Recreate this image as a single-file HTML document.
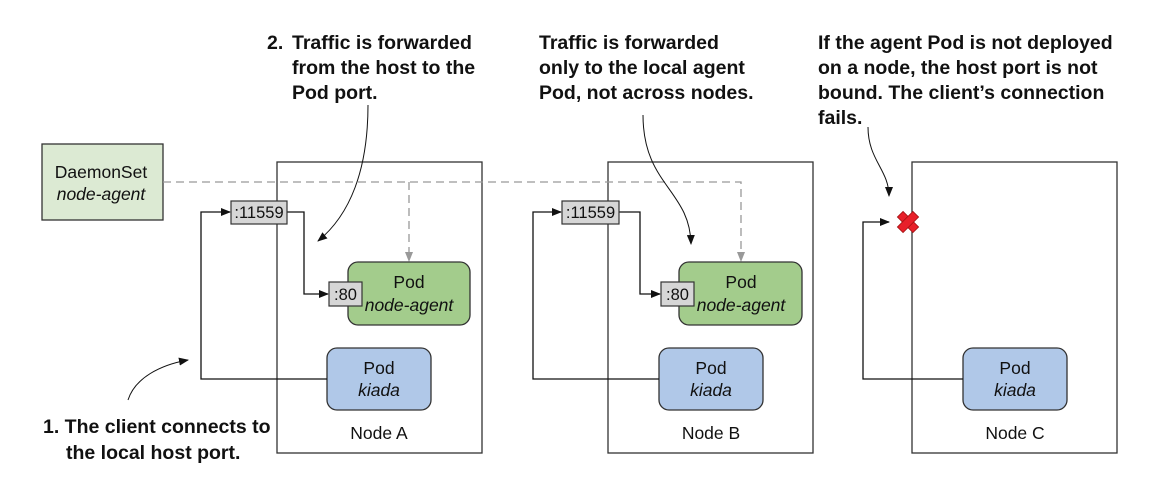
<!DOCTYPE html>
<html><head><meta charset="utf-8"><style>
html,body{margin:0;padding:0;background:#fff;}
svg{display:block;}
.a{font-family:"Liberation Sans Narrow","Liberation Sans",sans-serif;font-weight:bold;font-size:19.5px;fill:#111;}
.l{font-family:"Liberation Sans",sans-serif;font-size:17.5px;fill:#111;}
.s{font-size:16.5px;}
.i{font-style:italic;}
</style></head><body>
<svg width="1157" height="478" viewBox="0 0 1157 478" xmlns="http://www.w3.org/2000/svg">
<defs>
<marker id="ab" markerWidth="10" markerHeight="8" refX="9" refY="4" orient="auto" markerUnits="userSpaceOnUse"><path d="M0,0 L10,4 L0,8z" fill="#111"/></marker>
</defs>
<rect x="277" y="162" width="205" height="291" fill="#fff" stroke="#333" stroke-width="1.3"/>
<rect x="608" y="162" width="205" height="291" fill="#fff" stroke="#333" stroke-width="1.3"/>
<rect x="912" y="162" width="205" height="291" fill="#fff" stroke="#333" stroke-width="1.3"/>
<rect x="42" y="144" width="121" height="76" fill="#dcead3" stroke="#333" stroke-width="1.3"/>
<text class="l" x="101" y="178" text-anchor="middle">DaemonSet</text>
<text class="l i" x="101" y="200" text-anchor="middle">node-agent</text>
<path d="M163,182 H741 V258" fill="none" stroke="#999" stroke-width="1.3" stroke-dasharray="8,5"/>
<path d="M409,182 V258" fill="none" stroke="#999" stroke-width="1.3" stroke-dasharray="8,5"/>
<path d="M405,252 L413,252 L409,262z" fill="#999"/>
<path d="M737,252 L745,252 L741,262z" fill="#999"/>
<rect x="348" y="262" width="122" height="63" rx="10" fill="#a3cc8c" stroke="#333" stroke-width="1.3"/>
<text class="l" x="409" y="288" text-anchor="middle">Pod</text>
<text class="l i" x="409" y="311" text-anchor="middle">node-agent</text>
<rect x="327" y="348" width="104" height="62" rx="10" fill="#b0c8e8" stroke="#333" stroke-width="1.3"/>
<text class="l" x="379" y="374" text-anchor="middle">Pod</text>
<text class="l i" x="379" y="396" text-anchor="middle">kiada</text>
<text class="l" x="379" y="439" text-anchor="middle">Node A</text>
<path d="M327,379 H201 V212 H230" fill="none" stroke="#111" stroke-width="1.3" marker-end="url(#ab)"/>
<path d="M287,212 H304 V294 H328" fill="none" stroke="#111" stroke-width="1.3" marker-end="url(#ab)"/>
<rect x="231" y="201" width="56" height="23" fill="#d6d6d6" stroke="#333" stroke-width="1.2"/>
<text class="l s" x="259" y="218" text-anchor="middle">:11559</text>
<rect x="329" y="282" width="33" height="24" fill="#d6d6d6" stroke="#333" stroke-width="1.2"/>
<text class="l s" x="345.5" y="300" text-anchor="middle">:80</text>
<rect x="679" y="262" width="123" height="63" rx="10" fill="#a3cc8c" stroke="#333" stroke-width="1.3"/>
<text class="l" x="741" y="288" text-anchor="middle">Pod</text>
<text class="l i" x="741" y="311" text-anchor="middle">node-agent</text>
<rect x="659" y="348" width="104" height="62" rx="10" fill="#b0c8e8" stroke="#333" stroke-width="1.3"/>
<text class="l" x="711" y="374" text-anchor="middle">Pod</text>
<text class="l i" x="711" y="396" text-anchor="middle">kiada</text>
<text class="l" x="711" y="439" text-anchor="middle">Node B</text>
<path d="M659,379 H533 V212 H561" fill="none" stroke="#111" stroke-width="1.3" marker-end="url(#ab)"/>
<path d="M619,212 H640 V294 H660" fill="none" stroke="#111" stroke-width="1.3" marker-end="url(#ab)"/>
<rect x="562" y="201" width="57" height="23" fill="#d6d6d6" stroke="#333" stroke-width="1.2"/>
<text class="l s" x="590.5" y="218" text-anchor="middle">:11559</text>
<rect x="661" y="282" width="33" height="24" fill="#d6d6d6" stroke="#333" stroke-width="1.2"/>
<text class="l s" x="677.5" y="300" text-anchor="middle">:80</text>
<rect x="963" y="348" width="104" height="62" rx="10" fill="#b0c8e8" stroke="#333" stroke-width="1.3"/>
<text class="l" x="1015" y="374" text-anchor="middle">Pod</text>
<text class="l i" x="1015" y="396" text-anchor="middle">kiada</text>
<text class="l" x="1015" y="439" text-anchor="middle">Node C</text>
<path d="M963,379 H863 V222 H889" fill="none" stroke="#111" stroke-width="1.3" marker-end="url(#ab)"/>
<g transform="translate(908,222) rotate(45)">
<rect x="-11" y="-4" width="22" height="8" fill="#e8202a" stroke="#a01010" stroke-width="0.8"/>
<rect x="-4" y="-11" width="8" height="22" fill="#e8202a" stroke="#a01010" stroke-width="0.8"/>
<rect x="-3.5" y="-3.5" width="7" height="7" fill="#e8202a"/>
</g>
<path d="M368,105 C368,170 350,215 318,241" fill="none" stroke="#111" stroke-width="1" marker-end="url(#ab)"/>
<path d="M128,400 C135,378 160,365 188,360" fill="none" stroke="#111" stroke-width="1" marker-end="url(#ab)"/>
<path d="M643,115 C643,185 690,190 691,244" fill="none" stroke="#111" stroke-width="1" marker-end="url(#ab)"/>
<path d="M868,127 C868,160 889,170 889,196" fill="none" stroke="#111" stroke-width="1" marker-end="url(#ab)"/>
<text class="a" x="267" y="49">2.</text>
<text class="a" x="292" y="49">Traffic is forwarded</text>
<text class="a" x="292" y="74">from the host to the</text>
<text class="a" x="292" y="99">Pod port.</text>
<text class="a" x="539" y="49">Traffic is forwarded</text>
<text class="a" x="539" y="74">only to the local agent</text>
<text class="a" x="539" y="99">Pod, not across nodes.</text>
<text class="a" x="818" y="49">If the agent Pod is not deployed</text>
<text class="a" x="818" y="74">on a node, the host port is not</text>
<text class="a" x="818" y="99">bound. The client’s connection</text>
<text class="a" x="818" y="124">fails.</text>
<text class="a" x="43" y="433">1. The client connects to</text>
<text class="a" x="66" y="459">the local host port.</text>
</svg>
</body></html>
